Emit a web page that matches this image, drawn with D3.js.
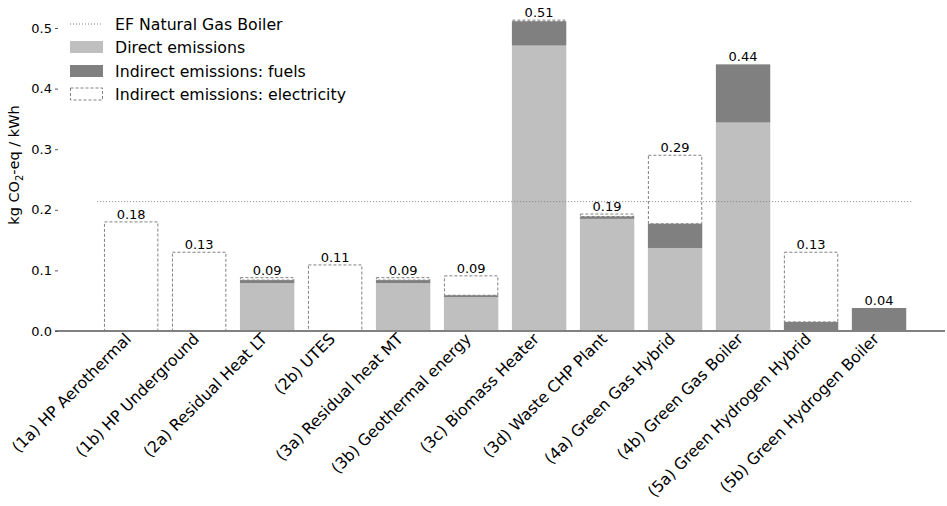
<!DOCTYPE html>
<html>
<head>
<meta charset="utf-8">
<script src="https://cdn.jsdelivr.net/npm/d3@7"></script>
<style>
body { margin: 0; background: #fff; }
svg { font-family: "DejaVu Sans", sans-serif; }
</style>
</head>
<body>
<svg id="chart" width="947" height="506"></svg>
<script>
const categories = ["(1a) HP Aerothermal", "(1b) HP Underground", "(2a) Residual Heat LT", "(2b) UTES",
  "(3a) Residual heat MT", "(3b) Geothermal energy", "(3c) Biomass Heater", "(3d) Waste CHP Plant",
  "(4a) Green Gas Hybrid", "(4b) Green Gas Boiler", "(5a) Green Hydrogen Hybrid", "(5b) Green Hydrogen Boiler"];
const directEmissions = [0, 0, 0.079, 0, 0.079, 0.056, 0.471, 0.185, 0.137, 0.344, 0, 0];
const fuelEmissions = [0, 0, 0.005, 0, 0.005, 0.003, 0.040, 0.004, 0.040, 0.096, 0.015, 0.038];
const electricityEmissions = [0.180, 0.130, 0.004, 0.109, 0.004, 0.032, 0.002, 0.004, 0.113, 0, 0.115, 0];
const totalLabels = ["0.18", "0.13", "0.09", "0.11", "0.09", "0.09", "0.51", "0.19", "0.29", "0.44", "0.13", "0.04"];
const naturalGasEF = 0.2135;
const yTicks = [0.0, 0.1, 0.2, 0.3, 0.4, 0.5];
const legendLabels = ["EF Natural Gas Boiler", "Direct emissions", "Indirect emissions: fuels", "Indirect emissions: electricity"];

const svg = d3.select("#chart");
const x = d3.scaleLinear().domain([-1.12, 11.97]).range([55, 945]);
const y = d3.scaleLinear().domain([0, 0.5]).range([331, 28]);
const bw = x(0.4) - x(-0.4);

const cDirect = "#bfbfbf", cFuel = "#808080", cEdge = "#808080";

// bars
const g = svg.append("g");
categories.forEach((c, i) => {
  const d = directEmissions[i], f = fuelEmissions[i], e = electricityEmissions[i];
  if (d > 0) g.append("rect").attr("x", x(i) - bw / 2).attr("width", bw)
    .attr("y", y(d)).attr("height", y(0) - y(d)).attr("fill", cDirect);
  if (f > 0) g.append("rect").attr("x", x(i) - bw / 2).attr("width", bw)
    .attr("y", y(d + f)).attr("height", y(d) - y(d + f)).attr("fill", cFuel);
  if (e > 0) g.append("rect").attr("x", x(i) - bw / 2 + 0.5).attr("width", bw - 1)
    .attr("y", y(d + f + e)).attr("height", y(d + f) - y(d + f + e))
    .attr("fill", "none").attr("stroke", cEdge).attr("stroke-width", 1).attr("stroke-dasharray", "3,2");
  const tot = d + f + e;
  svg.append("text").attr("x", x(i)).attr("y", y(tot) - 3).attr("text-anchor", "middle")
    .attr("font-size", 13).attr("fill", "#000").text(totalLabels[i]);
});

// natural gas reference
svg.append("line").attr("x1", x(-0.5)).attr("x2", x(11.5)).attr("y1", y(naturalGasEF)).attr("y2", y(naturalGasEF))
  .attr("stroke", "#808080").attr("stroke-width", 1).attr("stroke-dasharray", "1,2");

// baseline
svg.append("line").attr("x1", 55).attr("x2", 945).attr("y1", y(0)).attr("y2", y(0))
  .attr("stroke", "#808080").attr("stroke-width", 2);

// y axis
const yAxis = d3.axisLeft(y).tickValues(yTicks).tickFormat(d3.format(".1f")).tickSize(3).tickPadding(3);
const ya = svg.append("g").attr("transform", "translate(58,0)").call(yAxis);
ya.select(".domain").remove();
ya.selectAll(".tick line").attr("stroke", "#555");
ya.selectAll("text").attr("font-size", 13).attr("font-family", "DejaVu Sans").attr("fill", "#000");

// y label
const yl = svg.append("text").attr("transform", "translate(19,165) rotate(-90)").attr("text-anchor", "middle")
  .attr("font-size", 14.5).attr("fill", "#000");
yl.append("tspan").text("kg CO");
yl.append("tspan").attr("font-size", 10).attr("dy", 4).text("2");
yl.append("tspan").attr("dy", -4).text("-eq / kWh");

// x labels
categories.forEach((c, i) => {
  svg.append("text").attr("transform", `translate(${x(i) + 1},${340}) rotate(-45)`)
    .attr("text-anchor", "end").attr("font-size", 15.75).attr("fill", "#000").text(c);
});

// legend
const lg = svg.append("g");
const lx = 70, lw = 33;
const rows = [24, 47, 71, 94];
lg.append("line").attr("x1", lx).attr("x2", lx + lw).attr("y1", rows[0]).attr("y2", rows[0])
  .attr("stroke", "#808080").attr("stroke-width", 1).attr("stroke-dasharray", "1,2");
lg.append("rect").attr("x", lx).attr("y", rows[1] - 6).attr("width", lw).attr("height", 12).attr("fill", cDirect);
lg.append("rect").attr("x", lx).attr("y", rows[2] - 6).attr("width", lw).attr("height", 12).attr("fill", cFuel);
lg.append("rect").attr("x", lx + 0.5).attr("y", rows[3] - 6).attr("width", lw - 1).attr("height", 12)
  .attr("fill", "none").attr("stroke", cEdge).attr("stroke-dasharray", "3,2");
legendLabels.forEach((t, i) => {
  lg.append("text").attr("x", 115).attr("y", rows[i] + 5.5).attr("font-size", 15.75).attr("fill", "#000").text(t);
});
</script>
</body>
</html>
